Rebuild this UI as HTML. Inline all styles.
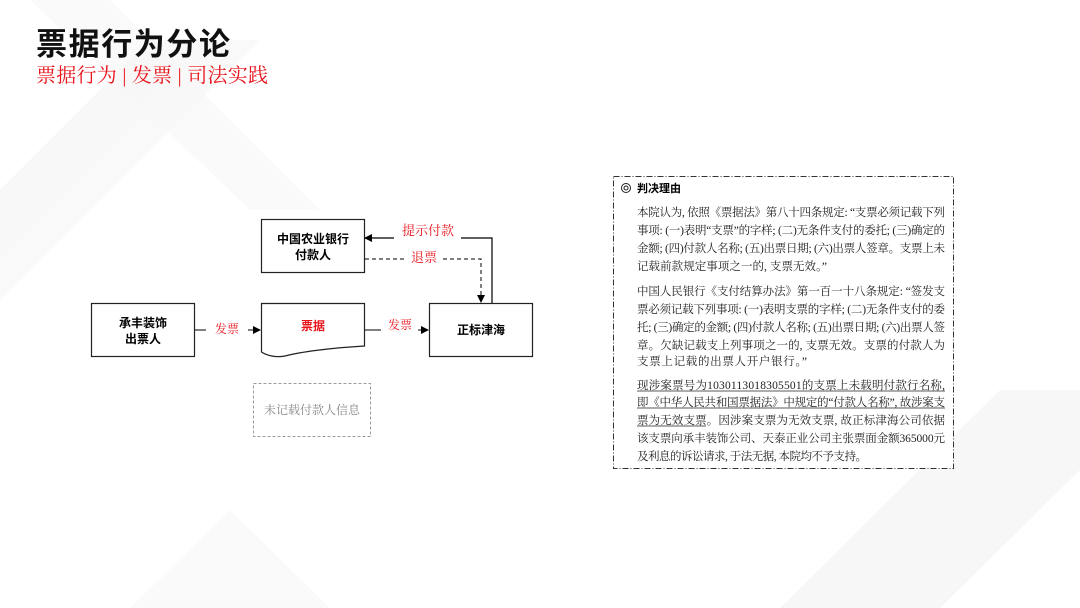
<!DOCTYPE html>
<html><head><meta charset="utf-8"><style>
html,body{margin:0;padding:0;width:1080px;height:608px;overflow:hidden;background:#fff}
svg{display:block}
.s{font-family:"Liberation Sans","Noto Sans CJK SC",sans-serif}
.r{font-family:"Liberation Serif","Noto Serif CJK SC",serif}
</style></head><body>
<svg width="1080" height="608" viewBox="0 0 1080 608" xmlns="http://www.w3.org/2000/svg">
<defs>
<linearGradient id="g1" x1="0" y1="0" x2="1" y2="1"><stop offset="0" stop-color="#f1f1f1"/><stop offset="1" stop-color="#fdfdfd"/></linearGradient>
<marker id="ar" markerWidth="8" markerHeight="8" refX="7" refY="4" orient="auto" markerUnits="userSpaceOnUse"><path d="M0,0 L8,4 L0,8 z" fill="#000"/></marker>
</defs>
<rect width="1080" height="608" fill="#fff"/>
<polygon points="0,190 150,40 260,40 0,300" fill="url(#g1)" opacity="0.7"/>
<polygon points="30,0 110,0 320,210 250,210" fill="#f6f6f6" opacity="0.6"/>
<polygon points="780,608 1000,390 1080,390 1080,470 940,608" fill="#f4f4f4" opacity="0.7"/>
<polygon points="130,608 230,510 330,608" fill="#f6f6f6" opacity="0.6"/>

<text x="36" y="55" class="s" font-size="31" font-weight="bold" fill="#111" textLength="194">票据行为分论</text>
<text x="36" y="82" class="r" font-size="20" fill="#e8141c" textLength="232">票据行为 | 发票 | 司法实践</text>

<rect x="261.5" y="219.5" width="103" height="53" fill="#fff" stroke="#222" stroke-width="1.2"/>
<text x="313" y="243" class="s" font-size="12" font-weight="bold" text-anchor="middle">中国农业银行</text>
<text x="313" y="259" class="s" font-size="12" font-weight="bold" text-anchor="middle">付款人</text>

<rect x="91.5" y="303.5" width="103" height="53" fill="#fff" stroke="#222" stroke-width="1.2"/>
<text x="143" y="327" class="s" font-size="12" font-weight="bold" text-anchor="middle">承丰装饰</text>
<text x="143" y="343" class="s" font-size="12" font-weight="bold" text-anchor="middle">出票人</text>

<path d="M261.5,303.5 H364.5 V346 C330,348 300,352 285,356 C275,358 266,355 261.5,352 Z" fill="#fff" stroke="#222" stroke-width="1.2"/>
<text x="313" y="330" class="s" font-size="12" font-weight="bold" fill="#e8141c" text-anchor="middle">票据</text>

<rect x="429.5" y="303.5" width="103" height="53" fill="#fff" stroke="#222" stroke-width="1.2"/>
<text x="481" y="334" class="s" font-size="12" font-weight="bold" text-anchor="middle">正标津海</text>

<rect x="253.5" y="383.5" width="117" height="53" fill="#fff" stroke="#999" stroke-width="1" stroke-dasharray="3,2"/>
<text x="312" y="414" class="r" font-size="12" fill="#888" text-anchor="middle">未记载付款人信息</text>

<line x1="195" y1="330" x2="206" y2="330" stroke="#000"/>
<line x1="248" y1="330" x2="260" y2="330" stroke="#000" marker-end="url(#ar)"/>
<text x="227" y="333" class="r" font-size="12" fill="#e8141c" text-anchor="middle">发票</text>
<line x1="365" y1="330" x2="381" y2="330" stroke="#000"/>
<line x1="418" y1="330" x2="428" y2="330" stroke="#000" marker-end="url(#ar)"/>
<text x="400" y="329" class="r" font-size="12" fill="#e8141c" text-anchor="middle">发票</text>

<polyline points="492,303 492,238 461,238" fill="none" stroke="#000" stroke-width="1.2"/>
<line x1="394" y1="238" x2="365" y2="238" stroke="#000" stroke-width="1.2" marker-end="url(#ar)"/>
<text x="428" y="235" class="r" font-size="13" fill="#e8141c" text-anchor="middle">提示付款</text>
<line x1="365" y1="259" x2="404" y2="259" stroke="#000" stroke-dasharray="4,3"/>
<polyline points="443,259 481,259 481,302" fill="none" stroke="#000" stroke-dasharray="4,3" marker-end="url(#ar)"/>
<text x="424" y="262" class="r" font-size="13" fill="#e8141c" text-anchor="middle">退票</text>

<rect x="613.5" y="176.5" width="340" height="292" fill="#fff" stroke="#333" stroke-width="1" stroke-dasharray="6,2,1,2"/>
<circle cx="626" cy="188" r="4.5" fill="none" stroke="#222"/><circle cx="626" cy="188" r="2" fill="none" stroke="#222"/>
<text x="637" y="192" class="s" font-size="11" font-weight="bold">判决理由</text>
<g class="r" font-size="11.5" fill="#222">
<text x="637" y="216" textLength="308">本院认为, 依照《票据法》第八十四条规定: “支票必须记载下列</text>
<text x="637" y="234" textLength="308">事项: (一)表明“支票”的字样; (二)无条件支付的委托; (三)确定的</text>
<text x="637" y="252" textLength="308">金额; (四)付款人名称; (五)出票日期; (六)出票人签章。支票上未</text>
<text x="637" y="270" textLength="190">记载前款规定事项之一的, 支票无效。”</text>
<text x="637" y="295" textLength="308">中国人民银行《支付结算办法》第一百一十八条规定: “签发支</text>
<text x="637" y="313" textLength="308">票必须记载下列事项: (一)表明支票的字样; (二)无条件支付的委</text>
<text x="637" y="331" textLength="308">托; (三)确定的金额; (四)付款人名称; (五)出票日期; (六)出票人签</text>
<text x="637" y="349" textLength="308">章。欠缺记载支上列事项之一的, 支票无效。支票的付款人为</text>
<text x="637" y="365" textLength="170">支票上记载的出票人开户银行。”</text>
<text x="637" y="389" textLength="308">现涉案票号为1030113018305501的支票上未载明付款行名称,</text>
<text x="637" y="406" textLength="308">即《中华人民共和国票据法》中规定的“付款人名称”, 故涉案支</text>
<text x="637" y="424" textLength="308">票为无效支票。因涉案支票为无效支票, 故正标津海公司依据</text>
<text x="637" y="442" textLength="308">该支票向承丰装饰公司、天泰正业公司主张票面金额365000元</text>
<text x="637" y="460" textLength="230">及利息的诉讼请求, 于法无据, 本院均不予支持。</text>
</g>
<line x1="637" y1="391" x2="945" y2="391" stroke="#222" stroke-width="0.8"/>
<line x1="637" y1="408" x2="945" y2="408" stroke="#222" stroke-width="0.8"/>
<line x1="637" y1="426" x2="706" y2="426" stroke="#222" stroke-width="0.8"/>
</svg>
</body></html>
